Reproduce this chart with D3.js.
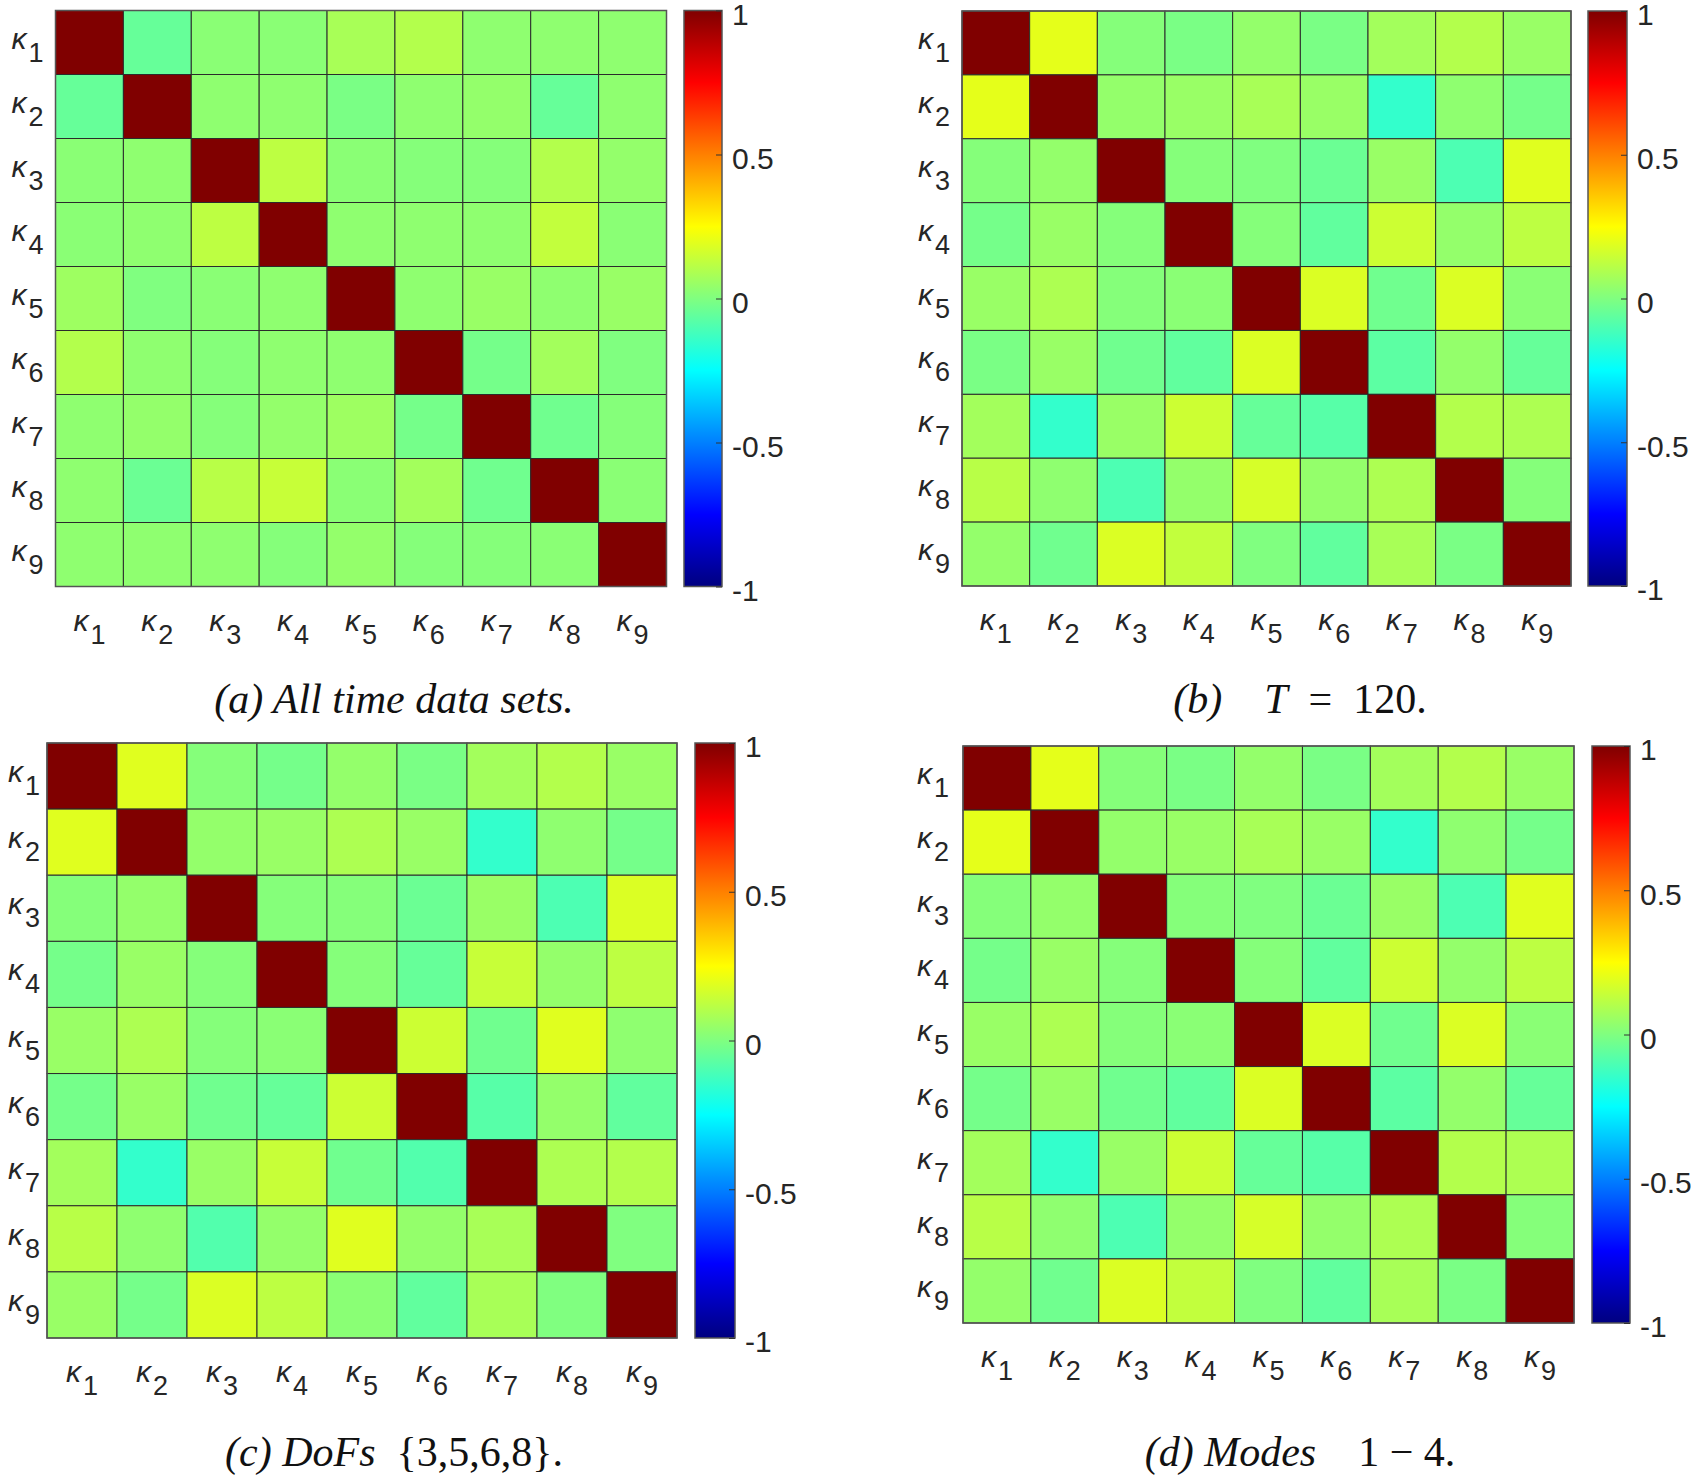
<!DOCTYPE html>
<html>
<head>
<meta charset="utf-8">
<script src="https://cdn.jsdelivr.net/npm/d3@7"></script>
<style>
  body { margin: 0; background: #fff; }
  svg { display: block; }
</style>
</head>
<body>
<svg id="chart" width="1691" height="1475"></svg>
<script>
// parameter names on both axes
const params = ['1', '2', '3', '4', '5', '6', '7', '8', '9'];
const cbTicks = [1, 0.5, 0, -0.5, -1];

// (a) all time data sets
const corrA = [
  [1, -0.05, 0.02, 0.02, 0.08, 0.10, 0.03, 0.03, 0.03],
  [-0.05, 1, 0.03, 0.03, -0.01, 0.03, 0.04, -0.05, 0.03],
  [0.02, 0.03, 1, 0.12, 0.02, 0.01, 0.01, 0.10, 0.04],
  [0.02, 0.03, 0.12, 1, 0.03, 0.03, 0.03, 0.13, 0.02],
  [0.06, 0.00, 0.02, 0.03, 1, 0.03, 0.05, 0.03, 0.05],
  [0.10, 0.03, 0.01, 0.03, 0.03, 1, -0.02, 0.07, 0.00],
  [0.03, 0.04, 0.01, 0.04, 0.06, -0.02, 1, -0.03, 0.01],
  [0.03, -0.04, 0.11, 0.14, 0.02, 0.07, -0.03, 1, 0.02],
  [0.03, 0.03, 0.03, 0.01, 0.04, 0.01, 0.01, 0.02, 1]
];

// (b) T = 120
const corrB = [
  [1, 0.20, 0.01, -0.01, 0.04, -0.01, 0.07, 0.10, 0.05],
  [0.20, 1, 0.04, 0.05, 0.08, 0.05, -0.15, 0.03, -0.02],
  [0.01, 0.04, 1, 0.01, 0.00, -0.04, 0.05, -0.10, 0.19],
  [-0.02, 0.05, 0.01, 1, 0.01, -0.06, 0.15, 0.04, 0.12],
  [0.05, 0.09, 0.01, 0.02, 1, 0.18, -0.03, 0.18, 0.02],
  [-0.01, 0.05, -0.03, -0.06, 0.18, 1, -0.07, 0.04, -0.05],
  [0.07, -0.15, 0.05, 0.15, -0.05, -0.08, 1, 0.10, 0.09],
  [0.11, 0.03, -0.10, 0.04, 0.17, 0.04, 0.09, 1, 0.01],
  [0.04, -0.03, 0.18, 0.13, 0.00, -0.06, 0.08, -0.01, 1]
];

// (c) DoFs {3,5,6,8}
const corrC = [
  [1, 0.19, 0.01, -0.02, 0.04, -0.01, 0.07, 0.10, 0.05],
  [0.19, 1, 0.04, 0.05, 0.09, 0.05, -0.15, 0.03, -0.02],
  [0.01, 0.04, 1, 0.01, 0.01, -0.04, 0.05, -0.10, 0.18],
  [-0.02, 0.05, 0.01, 1, 0.01, -0.05, 0.14, 0.04, 0.12],
  [0.05, 0.09, 0.01, 0.02, 1, 0.15, -0.03, 0.19, 0.03],
  [-0.02, 0.05, -0.03, -0.05, 0.15, 1, -0.08, 0.04, -0.06],
  [0.07, -0.15, 0.05, 0.14, -0.03, -0.09, 1, 0.09, 0.10],
  [0.11, 0.03, -0.09, 0.04, 0.19, 0.04, 0.08, 1, 0.00],
  [0.05, -0.02, 0.18, 0.12, 0.02, -0.06, 0.08, 0.00, 1]
];

// (d) modes 1-4
const corrD = [
  [1, 0.20, 0.01, -0.01, 0.04, -0.01, 0.07, 0.10, 0.05],
  [0.20, 1, 0.04, 0.05, 0.08, 0.05, -0.15, 0.03, -0.02],
  [0.01, 0.04, 1, 0.01, 0.00, -0.04, 0.05, -0.10, 0.19],
  [-0.02, 0.05, 0.01, 1, 0.01, -0.06, 0.15, 0.04, 0.12],
  [0.05, 0.09, 0.01, 0.02, 1, 0.18, -0.03, 0.18, 0.02],
  [-0.02, 0.05, -0.03, -0.06, 0.18, 1, -0.07, 0.04, -0.05],
  [0.07, -0.15, 0.05, 0.15, -0.05, -0.08, 1, 0.10, 0.09],
  [0.11, 0.03, -0.10, 0.04, 0.17, 0.04, 0.09, 1, 0.01],
  [0.04, -0.03, 0.18, 0.13, 0.00, -0.06, 0.08, -0.01, 1]
];

// caption pieces: [text, italic?]
const capA = [['(a) All time data sets.', true]];
const capB = [['(b)', true], ['\u2003T', true], ['\u2002=\u2002', false], ['120.', false]];
const capC = [['(c) DoFs', true], ['\u2002{3,5,6,8}.', false]];
const capD = [['(d) Modes', true], ['\u20031 \u2212 4.', false]];

// MATLAB style jet colormap, v in [-1, 1]
function jet(v) {
  const t = (v + 1) / 2;
  const f = x => Math.max(0, Math.min(1, 1.5 - Math.abs(x)));
  return d3.rgb(255 * f(4 * t - 3), 255 * f(4 * t - 2), 255 * f(4 * t - 1));
}

const svg = d3.select('#chart');

// gradient for the colorbars
const grad = svg.append('defs').append('linearGradient')
  .attr('id', 'jetgrad')
  .attr('x1', 0).attr('y1', 1).attr('x2', 0).attr('y2', 0);
d3.range(0, 1.0001, 1 / 64).forEach(s => {
  grad.append('stop').attr('offset', s).attr('stop-color', jet(s * 2 - 1));
});

const labelColor = '#262626';
const sans = 'Liberation Sans, Arial, sans-serif';

function kappa(sel, k) {
  sel.append('tspan').text('\u03BA').style('font-style', 'italic').style('font-size', '30px');
  sel.append('tspan').text(k).attr('dx', 2).attr('dy', 13).style('font-size', '27px');
}

function drawPanel(p) {
  const g = svg.append('g');
  const x = d3.scaleBand().domain(params).range([p.x, p.x + p.w]);
  const y = d3.scaleBand().domain(params).range([p.y, p.y + p.h]);

  const cells = [];
  p.data.forEach((row, i) => row.forEach((v, j) => cells.push({ r: params[i], c: params[j], v })));

  g.selectAll('rect.cell')
    .data(cells)
    .enter()
    .append('rect')
    .attr('class', 'cell')
    .attr('x', d => x(d.c))
    .attr('y', d => y(d.r))
    .attr('width', x.bandwidth())
    .attr('height', y.bandwidth())
    .attr('fill', d => jet(d.v))
    .attr('stroke', '#2b2b2b')
    .attr('stroke-width', 1);

  // outer frame
  g.append('rect')
    .attr('x', p.x).attr('y', p.y)
    .attr('width', p.w).attr('height', p.h)
    .attr('fill', 'none')
    .attr('stroke', '#555')
    .attr('stroke-width', 1.5);

  // row labels
  params.forEach(k => {
    const t = g.append('text')
      .attr('x', p.x - p.gap)
      .attr('y', y(k) + y.bandwidth() / 2 + 6)
      .attr('text-anchor', 'end')
      .attr('fill', labelColor)
      .style('font-family', sans);
    kappa(t, k);
  });

  // column labels
  params.forEach(k => {
    const t = g.append('text')
      .attr('x', x(k) + x.bandwidth() / 2)
      .attr('y', p.y + p.h + 44)
      .attr('text-anchor', 'middle')
      .attr('fill', labelColor)
      .style('font-family', sans);
    kappa(t, k);
  });

  // colorbar
  g.append('rect')
    .attr('x', p.cbx).attr('y', p.y)
    .attr('width', p.cbw).attr('height', p.h)
    .attr('fill', 'url(#jetgrad)')
    .attr('stroke', '#555')
    .attr('stroke-width', 1.5);

  const cs = d3.scaleLinear().domain([-1, 1]).range([p.y + p.h, p.y]);
  const axis = g.append('g')
    .attr('transform', `translate(${p.cbx + p.cbw},0)`)
    .call(d3.axisRight(cs).tickValues(cbTicks).tickSize(-6).tickPadding(10).tickFormat(d => String(d)));
  axis.select('.domain').remove();
  axis.selectAll('line').attr('stroke', '#333');
  axis.selectAll('text')
    .attr('dy', '0.46em')
    .attr('fill', labelColor)
    .style('font-family', sans)
    .style('font-size', '30px');

  // caption
  const cap = g.append('text')
    .attr('x', p.capX)
    .attr('y', p.capY)
    .attr('text-anchor', 'middle')
    .attr('fill', '#111')
    .style('font-family', 'Liberation Serif, Times New Roman, serif')
    .style('font-size', '42px');
  p.caption.forEach(([s, it]) => {
    cap.append('tspan').text(s).style('font-style', it ? 'italic' : 'normal');
  });
}

drawPanel({ data: corrA, x: 55.5, y: 10.5, w: 611, h: 576, cbx: 684, cbw: 38, gap: 12, capX: 394, capY: 713, caption: capA });
drawPanel({ data: corrB, x: 962, y: 11, w: 609, h: 575, cbx: 1588, cbw: 39, gap: 12, capX: 1300, capY: 713, caption: capB });
drawPanel({ data: corrC, x: 47, y: 743, w: 630, h: 595, cbx: 695, cbw: 40, gap: 7, capX: 394, capY: 1466, caption: capC });
drawPanel({ data: corrD, x: 963, y: 746, w: 611, h: 577, cbx: 1592, cbw: 38, gap: 14, capX: 1300, capY: 1466, caption: capD });
</script>
</body>
</html>
